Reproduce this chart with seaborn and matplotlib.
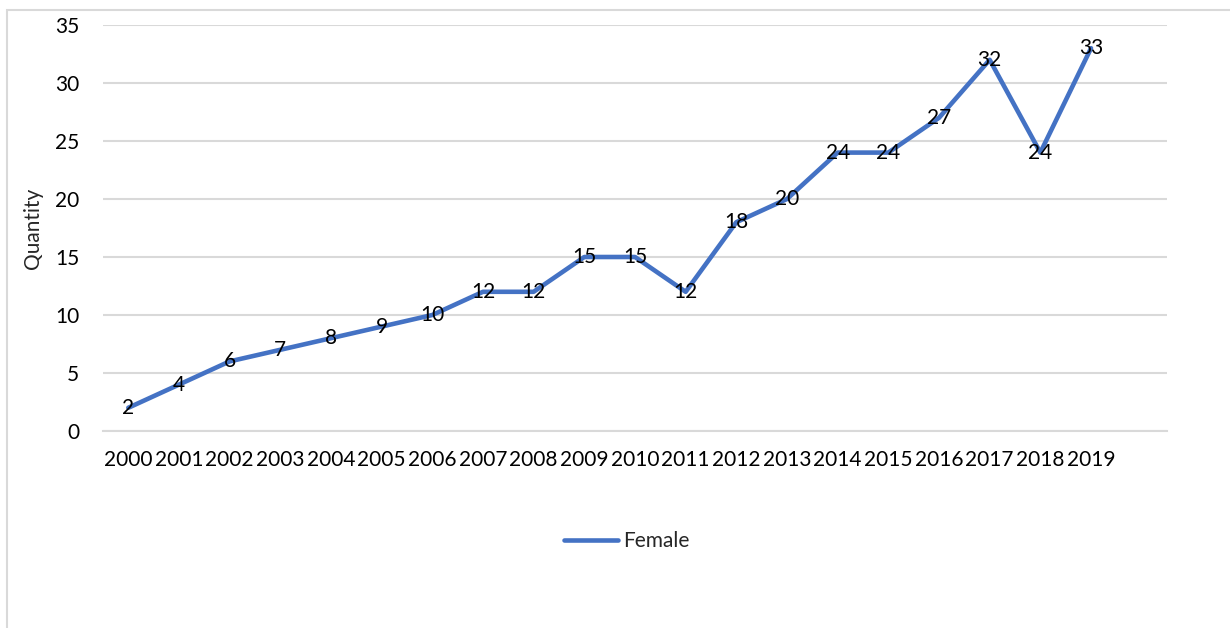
import matplotlib
matplotlib.use("Agg")
import matplotlib.pyplot as plt
import seaborn as sns
import pandas as pd
from matplotlib.patches import Rectangle

years = [str(y) for y in range(2000, 2020)]
female = [2, 4, 6, 7, 8, 9, 10, 12, 12, 15, 15, 12, 18, 20, 24, 24, 27, 32, 24, 33]

sns.set_theme(style="white")
plt.rcParams['font.family'] = ['Lato', 'DejaVu Sans']

df = pd.DataFrame({"Year": years, "Quantity": female, "Series": "Female"})

fig = plt.figure(figsize=(12.3, 6.28), dpi=100)
ax = fig.add_axes([0.0837, 0.3137, 0.9488 - 0.0837, 0.9602 - 0.3137])

# outer frame
fig.patches.append(Rectangle((7 / 1230, -0.1), 1.2, 1 - 10 / 628 + 0.1,
                             transform=fig.transFigure, fill=False,
                             edgecolor="#d9d9d9", linewidth=1.5))

sns.lineplot(data=df, x="Year", y="Quantity", hue="Series", palette=["#4472C4"],
             linewidth=3.3, ax=ax, sort=False, legend=True)

FS = 15
for i, v in enumerate(female):
    ax.text(i, v, str(v), ha="center", va="center", fontsize=FS, color="black")

ax.set_ylim(0, 35)
ax.set_xlim(-0.5, 20.5)
ax.set_yticks(range(0, 36, 5))
ax.yaxis.grid(True, color="#d9d9d9", linewidth=1.5)
ax.xaxis.grid(False)
for s in ax.spines.values():
    s.set_visible(False)
ax.spines["bottom"].set_visible(True)
ax.spines["bottom"].set_color("#d9d9d9")
ax.spines["bottom"].set_linewidth(1.5)
ax.tick_params(axis="both", length=0, labelsize=FS, colors="black")
ax.tick_params(axis="y", pad=17)
ax.tick_params(axis="x", pad=14)
ax.set_xlabel("")
ax.set_ylabel("Quantity", fontsize=FS, labelpad=2)
ax.yaxis.set_label_coords(-0.056, 0.5)

handles, labels = ax.get_legend_handles_labels()
ax.legend(handles, labels, loc="center", bbox_to_anchor=(627 / 1230, 1 - 541 / 628),
          bbox_transform=fig.transFigure, frameon=False, fontsize=FS,
          handlelength=2.6, handletextpad=0.25)

fig.savefig("out.png", dpi=100, facecolor="white")
